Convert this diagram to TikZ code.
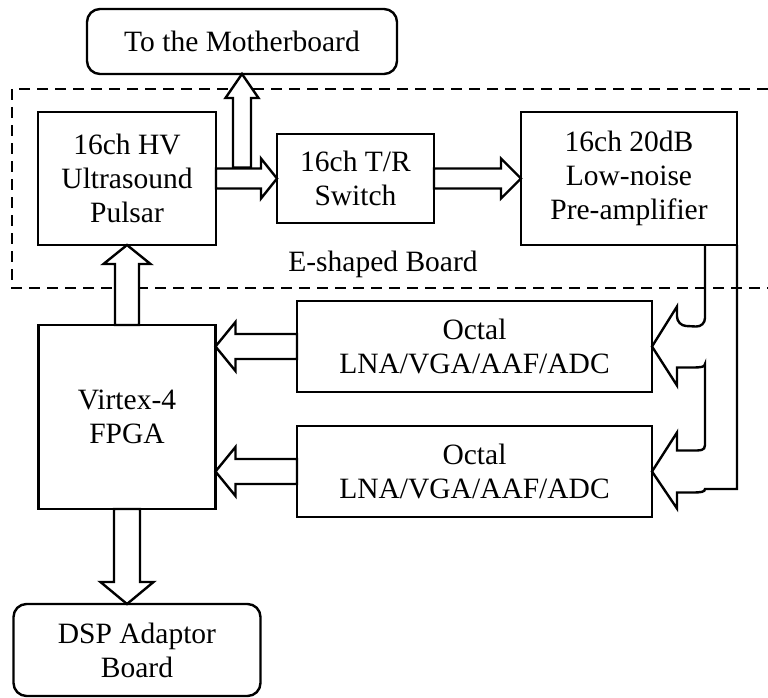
\documentclass[tikz,border=0pt]{standalone}
\usepackage{fontspec}
\setmainfont{Liberation Serif}
\usetikzlibrary{positioning,calc}

\begin{document}
\begin{tikzpicture}[
  x=1pt, y=-1pt,
  line width=2.4pt,
  box/.style={draw, align=center, inner sep=0pt, outer sep=0pt, font=\fontsize{29.5}{34}\selectfont},
  roundbox/.style={box, rounded corners=13pt},
  board/.style={dash pattern=on 11pt off 7pt},
  fat/.style n args={3}{fill=white, to path={
    ($(\tikztostart)!#1!90:(\tikztotarget)$)
    -- ($(\tikztotarget)!#3!(\tikztostart)!#1!-90:(\tikztostart)$)
    -- ($(\tikztotarget)!#3!(\tikztostart)!#2!-90:(\tikztostart)$)
    -- (\tikztotarget)
    -- ($(\tikztotarget)!#3!(\tikztostart)!#2!90:(\tikztostart)$)
    -- ($(\tikztotarget)!#3!(\tikztostart)!#1!90:(\tikztostart)$)
    -- ($(\tikztostart)!#1!-90:(\tikztotarget)$) -- cycle}},
]
\useasboundingbox (0,0) rectangle (768,698);
\node[roundbox, minimum width=310pt, minimum height=65pt] (mb) at (242,41.5) {To the Motherboard};
\node[box, minimum width=178pt, minimum height=133pt] (pulsar) at (127,178.5) {16ch HV\\Ultrasound\\Pulsar};
\node[box, right=61pt of pulsar, minimum width=157pt, minimum height=89pt] (tr) {16ch T/R\\Switch};
\node[box, right=87pt of tr, minimum width=216pt, minimum height=133pt] (preamp) {16ch 20dB\\Low-noise\\Pre-amplifier};
\node[box, below=80pt of pulsar, minimum width=177pt, minimum height=184pt] (fpga) {Virtex-4\\FPGA};
\node[box, minimum width=355pt, minimum height=91pt] (oct1) at (474.5,346.5) {Octal\\LNA/VGA/AAF/ADC};
\node[box, below=34pt of oct1, minimum width=355pt, minimum height=91pt] (oct2) {Octal\\LNA/VGA/AAF/ADC};
\node[roundbox, below=95pt of fpga, xshift=10pt, minimum width=247pt, minimum height=92pt] (dsp) {DSP Adaptor\\Board};
\node[font=\fontsize{29.5}{34}\selectfont] (eboard) at (383,264) {E-shaped Board};
% dashed outline of the board, open on the right
\draw[board] (768,89) -- (12,89) -- (12,288) -- (768,288);
% fat arrows
\coordinate (tap) at ($(pulsar.east)+(26,-11)$);
\coordinate (t1) at (pulsar.east -| tr.west);
\coordinate (t2) at (tap |- mb.south);
\coordinate (t3) at (tr.east -| preamp.west);
\coordinate (t4) at (fpga.north |- pulsar.south);
\coordinate (t5) at (oct1.west -| fpga.east);
\coordinate (t6) at (oct2.west -| fpga.east);
\coordinate (t7) at (fpga.south |- dsp.north);
\draw[fat={10pt}{20pt}{16pt}] (pulsar.east) to (t1);
\draw[fat={9pt}{16.5pt}{24pt}] (tap) to (t2);
\draw[fat={10pt}{20pt}{20pt}] (tr.east) to (t3);
\draw[fat={12pt}{23.5pt}{19pt}] (fpga.north) to (t4);
\draw[fat={12.5pt}{24.5pt}{20pt}] (oct1.west) to (t5);
\draw[fat={12.5pt}{24.5pt}{20pt}] (oct2.west) to (t6);
\draw[fat={13pt}{26.5pt}{22pt}] (fpga.south) to (t7);
% bent arrows from the pre-amplifier to both octal chips
\coordinate (bend) at ($(preamp.south east)+(-32,0)$);
\draw (bend) [rounded corners=9pt] -- ($(bend)+(0,82)$) -- ($(oct1.east)+(25,-21)$) [sharp corners]
  -- ($(oct1.east)+(25,-40)$) -- (oct1.east) -- ($(oct1.east)+(25,39)$) -- ($(oct1.east)+(25,21)$)
  -- ($(oct1.east)+(40,21)$) .. controls ($(oct1.east)+(49,21)$) and ($(bend)+(0,122)$) .. ($(bend)+(0,119)$)
  -- ($(bend)+(0,200)$) .. controls ($(bend)+(0,206)$) and ($(oct2.east)+(48,-21)$) .. ($(oct2.east)+(40,-21)$)
  -- ($(oct2.east)+(25,-21)$) -- ($(oct2.east)+(25,-39)$) -- (oct2.east) -- ($(oct2.east)+(25,37)$)
  -- ($(oct2.east)+(25,21)$) -- ($(oct2.east)+(40,21)$) .. controls ($(oct2.east)+(49,21)$) and ($(bend)+(0,247)$) .. ($(bend)+(0,244)$)
  -- ($(preamp.south east)+(0,244)$) -- (preamp.south east);
\end{tikzpicture}
\end{document}
